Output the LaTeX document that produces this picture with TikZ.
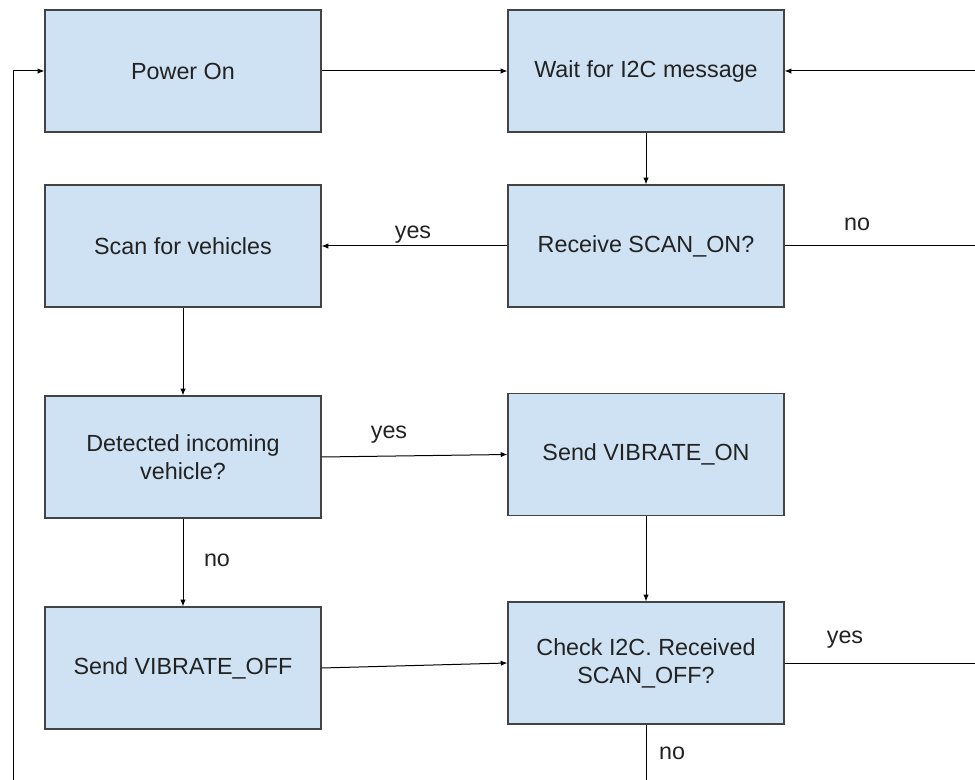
\documentclass[tikz,border=0pt]{standalone}
\usepackage{fontspec}
\setmainfont{Liberation Sans}
\usetikzlibrary{arrows.meta}
\definecolor{boxfill}{HTML}{CFE2F3}
\definecolor{boxline}{HTML}{434343}
\definecolor{ink}{HTML}{222222}
\tikzset{
  stepbox/.style={draw=boxline, fill=boxfill, line width=0.9pt, inner sep=0pt,
    minimum width=207pt, minimum height=91.5pt, align=center, text=ink,
    font=\fontsize{17.5}{21}\selectfont},
  flow/.style={draw=black, line width=0.75pt, -{Latex[length=5pt,width=4pt]}},
  plain/.style={draw=black, line width=0.75pt},
  lbl/.style={anchor=base, text=ink, inner sep=0pt, font=\fontsize{17.5}{21}\selectfont}
}
\begin{document}
\begin{tikzpicture}[x=0.75pt, y=-0.75pt]
\useasboundingbox (0,0) rectangle (975,780);
\begin{scope}
\clip (0,0) rectangle (975,780);

% process boxes
\node[stepbox] (power)  at (183,71)    {Power On};
\node[stepbox] (wait)   at (646,71)    {Wait for I2C message};
\node[stepbox] (recv)   at (646,246)   {Receive SCAN\_ON?};
\node[stepbox] (scan)   at (183,246)   {Scan for vehicles};
\node[stepbox] (detect) at (183,457)   {Detected incoming\\vehicle?};
\node[stepbox] (von)    at (646,454.5) {Send VIBRATE\_ON};
\node[stepbox] (voff)   at (183,668)   {Send VIBRATE\_OFF};
\node[stepbox] (check)  at (646,663)   {Check I2C. Received\\SCAN\_OFF?};

% loose ends running off the page
\coordinate (backR)  at (975,71);
\coordinate (noR)    at (975,246);
\coordinate (yesR)   at (975,663);
\coordinate (noDown) at (646,780);
\coordinate (backL)  at (13,780);

% connectors
\draw[flow] (power.east) -- (wait.west);
\draw[flow] (backR) -- (wait.east);
\draw[flow] (wait.south) -- (recv.north);
\draw[flow] (recv.west) -- (scan.east);
\draw[plain] (recv.east) -- (noR);
\draw[flow] (scan.south) -- (detect.north);
\draw[flow] (detect.east) -- (von.west);
\draw[flow] (detect.south) -- (voff.north);
\draw[flow] (voff.east) -- (check.west);
\draw[flow] (von.south) -- (check.north);
\draw[plain] (check.east) -- (yesR);
\draw[plain] (check.south) -- (noDown);
\draw[flow] (backL) |- (power.west);

% branch labels
\node[lbl] (l1) at (413,239) {yes};
\node[lbl] (l2) at (857,231) {no};
\node[lbl] (l3) at (389,439) {yes};
\node[lbl] (l4) at (217,566) {no};
\node[lbl] (l5) at (845,643) {yes};
\node[lbl] (l6) at (672,759) {no};
\end{scope}
\end{tikzpicture}
\end{document}
